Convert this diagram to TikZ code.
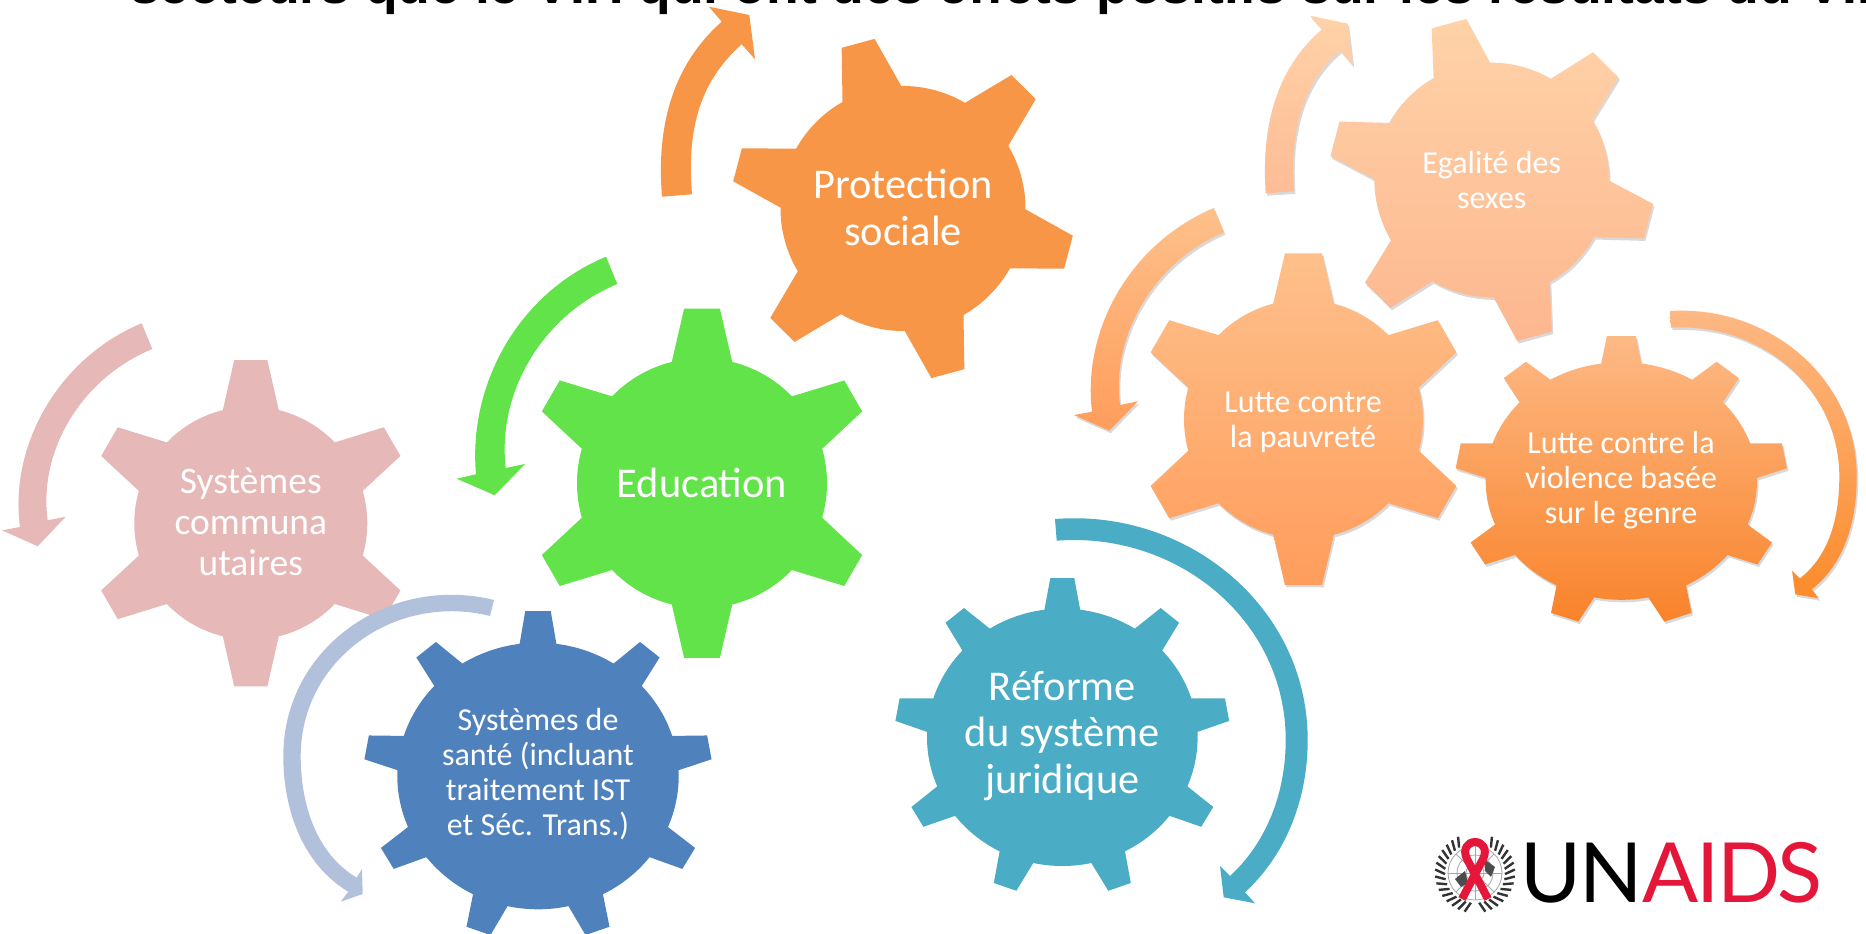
\documentclass[tikz,border=0pt]{standalone}
\usepackage{fontspec}
\usepackage{tikz}
\usetikzlibrary{shadows}
\setmainfont{Carlito}
\newfontfamily\titlefont{Liberation Sans}
\newfontfamily\logofont[LetterSpace=-2.8]{Lato}

\definecolor{protcol}{HTML}{F79646}
\definecolor{educol}{HTML}{62E349}
\definecolor{commcol}{HTML}{E6B8B7}
\definecolor{santecol}{HTML}{4F81BD}
\definecolor{santelight}{HTML}{B1C1DC}
\definecolor{reformcol}{HTML}{4BACC6}
\definecolor{aidsred}{HTML}{E4173B}
\definecolor{egaltop}{HTML}{FFD2A8}
\definecolor{egalbot}{HTML}{FDB78F}
\definecolor{egalarrow}{HTML}{FEBC95}
\definecolor{pauvtop}{HTML}{FEC08B}
\definecolor{pauvbot}{HTML}{FF9D5C}
\definecolor{violtop}{HTML}{FDB985}
\definecolor{violbot}{HTML}{F9832A}
\definecolor{violarrow}{HTML}{FC8B2B}

% teeth, phase, tip radius, half angle at base, half angle at tip
\newcommand{\gear}[6][]{
  \pgfmathsetmacro{\gearstep}{360/#2}
  \path[#1] (#3-#5:1)
    \foreach \i in {1,...,#2} {
      -- (#3+\i*\gearstep-\gearstep-#6:#4) -- (#3+\i*\gearstep-\gearstep+#6:#4) -- (#3+\i*\gearstep-\gearstep+#5:1)
      arc[start angle=#3+\i*\gearstep-\gearstep+#5, end angle=#3+\i*\gearstep-#5, radius=1]
    } -- cycle;
}

\begin{document}
\begin{tikzpicture}[
    x=1pt, y=-1pt,
    gearlabel/.style={align=center, text=white, inner sep=0pt},
    big/.style={font=\fontsize{42.4}{46.5}\selectfont},
    mid/.style={font=\fontsize{37.5}{41}\selectfont},
    small/.style={font=\fontsize{32}{35}\selectfont},
    soft/.style={drop shadow={shadow xshift=1.5pt, shadow yshift=-2.5pt, opacity=0.15, fill=black}}
]

\path[use as bounding box, fill=white] (0,0) rectangle (1866,934);

% Title, cut by the top edge
\node[anchor=base west, inner sep=0pt, font=\fontsize{53.5}{60}\titlefont\bfseries] (title) at (130,4)
  {secteurs que le VIH qui ont des effets positifs sur les résultats du VIH};

% Gears on the left
\gear[fill=commcol, shift={(250.8,523.2)}, x=116.5pt, y=-116.5pt]{6}{270}{1.408}{13.9}{5.8}
\node[gearlabel, mid] (communautaires) at (250.8,522) {Systèmes\\communa\\utaires};

\gear[fill=educol, shift={(702,483.2)}, x=125pt, y=-125pt]{6}{270}{1.404}{14}{5.85}
\node[gearlabel, big] (education) at (702,482.7) {Education};

\gear[fill=protcol, shift={(903,208.5)}, x=122.5pt, y=-122.5pt]{6}{254.8}{1.404}{14.4}{5.7}
\node[gearlabel, big] (protection) at (903,207.5) {Protection\\sociale};

\gear[fill=santecol, shift={(538,776)}, x=140.7pt, y=-133.3pt]{9}{270}{1.24}{7.5}{4.2}
\node[gearlabel, small] (sante) at (538,774) {Systèmes de\\santé (incluant\\traitement IST\\et Séc. Trans.)};

\gear[fill=reformcol, shift={(1062.3,737.3)}, x=135.3pt, y=-128.7pt]{9}{270}{1.24}{7.6}{4.1}
\node[gearlabel, big] (reforme) at (1062.3,736) {Réforme\\du système\\juridique};

% Gears on the right, shaded
\gear[soft, top color=egaltop, bottom color=egalbot, shift={(1491.7,180)}, x=117.3pt, y=-117.3pt]{6}{254.7}{1.39}{14.4}{6.3}
\node[gearlabel, small] (egalite) at (1491.7,180) {Egalité des\\sexes};

\gear[soft, top color=pauvtop, bottom color=pauvbot, shift={(1303.5,419.2)}, x=119.5pt, y=-119.5pt]{6}{270}{1.396}{14.7}{6.4}
\node[gearlabel, small] (pauvrete) at (1303,422.5) {Lutte contre\\la pauvreté};

\gear[soft, top color=violtop, bottom color=violbot, shift={(1621.3,481)}, x=135.7pt, y=-118.8pt]{9}{270}{1.225}{8.5}{5}
\node[gearlabel, small] (violence) at (1621,480) {Lutte contre la\\violence basée\\sur le genre};

% Curved arrows
\fill[commcol] (141.7,323.3) .. controls (59,357.4) and (9,445) .. (20,527) -- (2,530.3) -- (37.7,546.3) -- (65.7,516.7) -- (47.7,520.3)
  .. controls (38,450) and (82.3,377.8) .. (152.3,349) -- cycle;

\fill[educol] (606,256.7) .. controls (517.8,293.3) and (468,385) .. (476,474.3) -- (456.7,478.7) -- (494.7,495.3) -- (525,464) -- (505.7,468)
  .. controls (497,392) and (542.5,315) .. (617.3,284) -- cycle;

\fill[protcol] (662,196.7) .. controls (656.5,128.9) and (670.8,66.8) .. (721.7,21.7) -- (709,6.7) -- (749.3,15) -- (755,59.3) -- (741.7,44.3)
  .. controls (696.8,84) and (687.2,134.5) .. (692,194.3) -- cycle;

\fill[santelight] (494,600) .. controls (389,574) and (283.3,648) .. (283.3,756) .. controls (283.3,809.6) and (302.4,864.1) .. (348.3,891.7)
  -- (340.7,901.7) -- (362.7,894) -- (362,869) -- (356.7,877.7)
  .. controls (315.8,853.2) and (300.7,803.7) .. (300.7,756) .. controls (300.7,659) and (396,592.4) .. (490,616) -- cycle;

\fill[reformcol] (1055,519) .. controls (1187.6,508.6) and (1307.7,607) .. (1307.7,740) .. controls (1307.7,797.3) and (1287.2,853.5) .. (1245,892.3)
  -- (1255,903.3) -- (1223.7,897.3) -- (1220,866) -- (1230,876)
  .. controls (1267.7,841.3) and (1285.7,791.2) .. (1285.7,740) .. controls (1285.7,619.6) and (1176.7,531.3) .. (1056.7,540.7) -- cycle;

\path[soft, top color=egaltop, bottom color=egalarrow] (1265.7,193.3) .. controls (1261.3,130.5) and (1274.1,70.3) .. (1322,29.3) -- (1310,15.7) -- (1347.7,23.7) -- (1352.7,65) -- (1340.3,50.7)
  .. controls (1299.3,85.8) and (1290.2,137.4) .. (1294,191.3) -- cycle;

\path[soft, top color=pauvtop, bottom color=pauvbot] (1213.7,208) .. controls (1131.4,242.9) and (1082,328) .. (1092,411.7) -- (1074,415) -- (1109.3,430.7) -- (1138,401.3) -- (1120,405)
  .. controls (1111,335) and (1154.1,261.9) .. (1224,232.3) -- cycle;

\path[soft, top color=violtop, bottom color=violarrow] (1670,311) .. controls (1768.8,305) and (1856.7,377.7) .. (1856.7,476.7) .. controls (1856.7,519.4) and (1845.4,563.1) .. (1811.7,589.3)
  -- (1818.7,598.3) -- (1795.3,594.3) -- (1792,570.7) -- (1800,578.3)
  .. controls (1830.3,554.7) and (1839.3,515.1) .. (1839.3,476.7) .. controls (1839.3,387.5) and (1760,322.3) .. (1671,327.7) -- cycle;

% Logo
\begin{scope}[shift={(1475,873)}]
  \draw[gray!70, line width=0.8pt] (0,0) circle[radius=27] (0,0) circle[radius=18] (0,0) circle[radius=9];
  \foreach \a in {0,45,...,315} \draw[gray!70, line width=0.8pt] (0,0) -- (\a:27);
  \fill[black!70] (-20,6) -- (-10,-2) -- (-7,10) -- (-14,14) -- cycle;
  \fill[black!70] (9,-14) -- (20,-6) -- (16,4) -- (10,-2) -- cycle;
  \foreach \a in {98,108,...,238} \draw[black!80, line width=2.4pt] (\a:30) -- (\a+7:40);
  \foreach \a in {82,72,...,-58} \draw[black!80, line width=2.4pt] (\a:30) -- (\a-7:40);
  \draw[aidsred, line width=8pt] (-13,26) -- (8,-14) .. controls (13,-24) and (7,-31) .. (0,-31)
    .. controls (-7,-31) and (-13,-24) .. (-8,-14) -- (13,26);
\end{scope}
\node[anchor=base west, inner sep=0pt, font=\fontsize{83}{90}\logofont] (logo) at (1520,902.3)
  {UN\textcolor{aidsred}{AIDS}};

\end{tikzpicture}
\end{document}
